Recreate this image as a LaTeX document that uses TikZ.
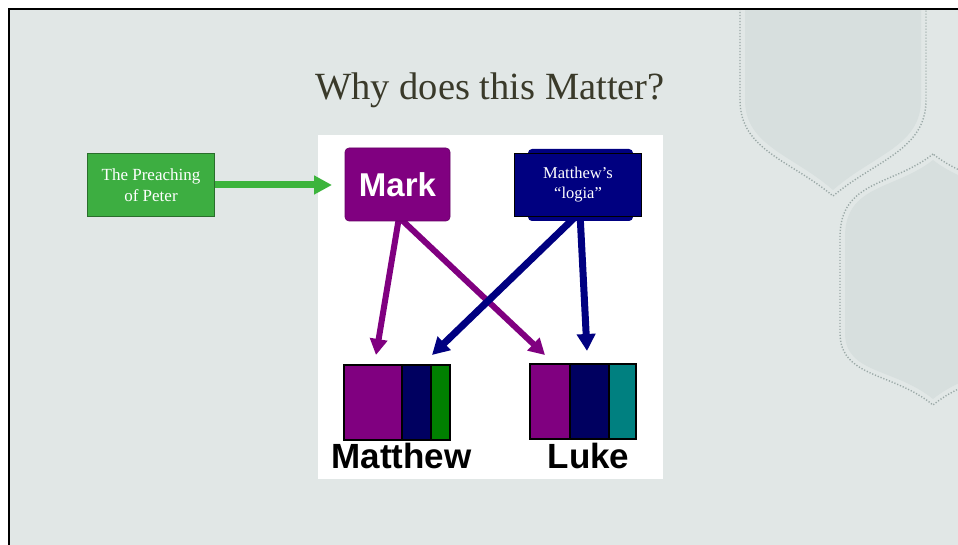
\documentclass[tikz,border=0pt]{standalone}
\usepackage{fontspec}
\setmainfont{Liberation Serif}
\setsansfont{Liberation Sans}
\usetikzlibrary{arrows.meta,calc}
\definecolor{slidebg}{HTML}{E1E7E6}
\definecolor{decofill}{HTML}{D7DFDE}
\definecolor{decodot}{HTML}{9AA8A6}
\definecolor{titlecol}{HTML}{3A3A2A}
\definecolor{mpurple}{HTML}{800080}
\definecolor{navya}{HTML}{000080}
\definecolor{navyb}{HTML}{000060}
\definecolor{mgreen}{HTML}{008000}
\definecolor{mteal}{HTML}{008080}
\definecolor{peterg}{HTML}{3DAE41}
\definecolor{peterb}{HTML}{2A6E2C}
\definecolor{arrowg}{HTML}{3CB43C}
\pgfdeclarelayer{back}
\pgfdeclarelayer{arrowlayer}
\pgfsetlayers{back,arrowlayer,main}
\tikzset{
  markbox/.style={fill=mpurple, draw=mpurple!80!black, line width=0.6pt, rounded corners=4pt,
    minimum width=105pt, minimum height=73pt, inner sep=0pt, text=white,
    font=\sffamily\bfseries\fontsize{33}{33}\selectfont},
  logiaback/.style={fill=navya, rounded corners=4pt, minimum width=105pt, minimum height=72pt, inner sep=0pt},
  logiafront/.style={fill=navya, draw=black, line width=1.5pt, minimum width=127pt, minimum height=63pt,
    inner sep=0pt, text=white, align=center, font=\fontsize{16.5}{20}\selectfont},
  peterbox/.style={fill=peterg, draw=peterb, line width=0.8pt, minimum width=127pt, minimum height=63pt,
    inner sep=0pt, text=white, align=center, font=\fontsize{17}{21}\selectfont},
  seg/.style={draw=black, line width=1.6pt, minimum height=75pt, inner sep=0pt, outer sep=0pt, anchor=north west},
  biglabel/.style={font=\sffamily\bfseries\fontsize{35}{35}\selectfont, text=black, inner sep=0pt, anchor=base},
  parrow/.style={draw=mpurple, line width=6pt, -{Triangle[length=16pt,width=17pt]}},
  barrow/.style={draw=navya, line width=7pt, -{Triangle[length=17pt,width=18pt]}},
  garrow/.style={draw=arrowg, line width=7pt, -{Triangle[length=18pt,width=18pt]}},
  decoline/.style={draw=decodot, line width=1.4pt, dash pattern=on 1.2pt off 1.8pt},
}
\begin{document}
\begin{tikzpicture}[x=1pt,y=-1pt]
\useasboundingbox (0,0) rectangle (958,545);
\begin{pgfonlayer}{back}
\fill[white] (0,0) rectangle (958,545);
\fill[slidebg] (9,9) rectangle (958,545);
\begin{scope}
\clip (9,9) rectangle (958,545);
% decorative shape 1
\draw[decoline] (740,0) -- (740,100) .. controls (740,150) and (790,160) .. (833,196)
  .. controls (876,160) and (926,150) .. (926,100) -- (926,0);
\fill[decofill] (745,0) -- (745,100) .. controls (745,146) and (793,155) .. (833,190)
  .. controls (873,155) and (921,146) .. (921,100) -- (921,0) -- cycle;
% decorative shape 2
\draw[decoline] (933,154) .. controls (893,186) and (840,180) .. (840,237) -- (840,333)
  .. controls (840,378) and (893,372) .. (933,405)
  .. controls (973,372) and (1026,378) .. (1026,333) -- (1026,237)
  .. controls (1026,180) and (973,186) .. (933,154);
\fill[decofill] (933,160) .. controls (895,190) and (845,184) .. (845,237) -- (845,333)
  .. controls (845,374) and (895,368) .. (933,399)
  .. controls (971,368) and (1021,374) .. (1021,333) -- (1021,237)
  .. controls (1021,184) and (971,190) .. (933,160) -- cycle;
\end{scope}
\draw[black, line width=2pt] (9,545) -- (9,9) -- (958,9);
\fill[white] (318,135) rectangle (663,479);
\end{pgfonlayer}

% title
\node[font=\fontsize{38.5}{38.5}\selectfont, text=titlecol, anchor=base, inner sep=0pt] (title) at (490,100) {Why does this Matter?};

% top boxes
\node[markbox] (mark) at (397.5,184.5) {Mark};
\node[logiaback] (logiab) at (580.5,185) {};
\node[logiafront] (logia) at (578,185) {Matthew’s\\“logia”};
\node[peterbox] (peter) at (151,185) {The Preaching\\of Peter};

% Matthew bar
\node[seg, fill=mpurple, minimum width=58pt] (mtA) at (344,365) {};
\node[seg, fill=navyb, minimum width=29pt] (mtB) at (mtA.north east) {};
\node[seg, fill=mgreen, minimum width=19pt] (mtC) at (mtB.north east) {};
% Luke bar
\node[seg, fill=mpurple, minimum width=40pt] (lkA) at (530,364) {};
\node[seg, fill=navyb, minimum width=39pt] (lkB) at (lkA.north east) {};
\node[seg, fill=mteal, minimum width=27pt] (lkC) at (lkB.north east) {};

\node[biglabel] (mtlab) at (401.5,468) {Matthew};
\node[biglabel] (lklab) at (588.5,468) {Luke};

% arrow tips
\coordinate (tipMtP) at (376,355);
\coordinate (tipLkP) at (545,355);
\coordinate (tipMtB) at (432,355);
\coordinate (tipLkB) at (587,351);
\coordinate (tipMark) at (332,185);

\begin{pgfonlayer}{arrowlayer}
\draw[parrow] ([xshift=1.5pt,yshift=4pt]mark.south) -- (tipMtP);
\draw[parrow] ([xshift=1.5pt,yshift=4pt]mark.south) -- (tipLkP);
\draw[barrow] ([xshift=1pt,yshift=4pt]logia.south) -- (tipMtB);
\draw[barrow] ([xshift=2pt,yshift=4pt]logia.south) -- (tipLkB);
\draw[garrow] (peter.east) -- (tipMark);
\end{pgfonlayer}
\end{tikzpicture}
\end{document}
